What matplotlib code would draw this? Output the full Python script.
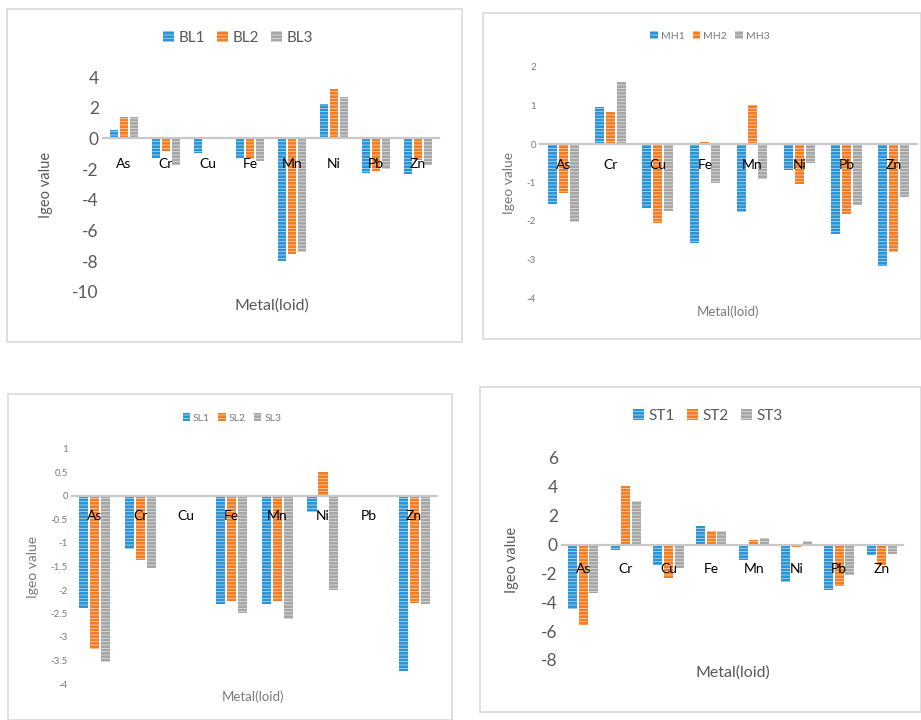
import matplotlib
matplotlib.use("Agg")
import matplotlib.pyplot as plt
from matplotlib.patches import Rectangle
import numpy as np

plt.rcParams['font.family'] = ['Lato', 'DejaVu Sans']
plt.rcParams['hatch.linewidth'] = 0.35

metals = ["As", "Cr", "Cu", "Fe", "Mn", "Ni", "Pb", "Zn"]

BL1 = [0.55, -1.3, -0.93, -1.3, -8.0, 2.24, -2.24, -2.33]
BL2 = [1.37, -0.8, 0.1, -1.35, -7.5, 3.2, -2.1, -1.4]
BL3 = [1.37, -1.75, -0.05, -1.5, -7.4, 2.72, -2.0, -1.75]

MH1 = [-1.57, 0.95, -1.65, -2.56, -1.76, -0.68, -2.35, -3.16]
MH2 = [-1.28, 0.83, -2.04, 0.06, 1.01, -1.05, -1.83, -2.81]
MH3 = [-2.02, 1.61, -1.73, -1.02, -0.91, -0.5, -1.58, -1.37]

SL1 = [-2.38, -1.13, 0.0, -2.3, -2.3, -0.35, 0.0, -3.72]
SL2 = [-3.26, -1.36, 0.0, -2.23, -2.23, 0.52, 0.0, -2.27]
SL3 = [-3.54, -1.54, 0.0, -2.48, -2.62, -2.0, 0.0, -2.3]

ST1 = [-4.44, -0.35, -1.39, 1.32, -1.04, -2.62, -3.17, -0.69]
ST2 = [-5.6, 4.05, -2.29, 0.93, 0.3, -0.16, -2.9, -1.43]
ST3 = [-3.33, 3.0, -1.62, 0.93, 0.49, 0.23, -2.08, -0.67]

yticks_BL = [4, 2, 0, -2, -4, -6, -8, -10]
yticks_MH = [2, 1, 0, -1, -2, -3, -4]
yticks_SL = [1, 0.5, 0, -0.5, -1, -1.5, -2, -2.5, -3, -3.5, -4]
yticks_ST = [6, 4, 2, 0, -2, -4, -6, -8]

colors = ["#2a94d6", "#f57c22", "#a6a6a6"]

W, H = 921, 720
fig = plt.figure(figsize=(W / 100, H / 100), dpi=100)
fig.patch.set_facecolor("white")

def frame(x0, y0, x1, y1):
    fig.add_artist(Rectangle((x0 / W, 1 - y1 / H), (x1 - x0) / W, (y1 - y0) / H,
                             transform=fig.transFigure, fill=False,
                             edgecolor="#d9d9d9", lw=1.2))

def panel(rect, series, names, yticks, ylim, tick_fs, cat_fs, cat_pad, lab_fs,
          txtcol, legend_xy, legend_fs, ylabel_xy, xlabel_xy, xlab_fs,
          width, step):
    x0, y0, x1, y1 = rect
    ax = fig.add_axes([x0 / W, 1 - y1 / H, (x1 - x0) / W, (y1 - y0) / H])
    x = np.arange(len(metals))
    handles = []
    for k, (vals, nm) in enumerate(zip(series, names)):
        b = ax.bar(x + (k - 1) * step, vals, width, color=colors[k],
                   edgecolor="white", linewidth=0, hatch="-----", label=nm, zorder=2)
        handles.append(b)
    ax.set_axisbelow(False)
    ax.set_xlim(-0.5, len(metals) - 0.5)
    ax.set_ylim(*ylim)
    ax.set_yticks(yticks)
    ax.set_yticklabels([("%g" % t) for t in yticks], fontsize=tick_fs, color=txtcol)
    ax.set_xticks(x)
    ax.set_xticklabels(metals, fontsize=cat_fs, color=txtcol)
    for s in ["top", "right", "left"]:
        ax.spines[s].set_visible(False)
    ax.spines["bottom"].set_position(("data", 0))
    ax.spines["bottom"].set_color("#c8c8c8")
    ax.spines["bottom"].set_linewidth(1.6)
    ax.tick_params(axis="both", length=0)
    ax.tick_params(axis="x", pad=cat_pad)
    ax.tick_params(axis="y", pad=3)
    ax.patch.set_alpha(0)
    fig.text(ylabel_xy[0] / W, 1 - ylabel_xy[1] / H, "Igeo value", rotation=90,
             ha="center", va="center", fontsize=lab_fs, color=txtcol)
    fig.text(xlabel_xy[0] / W, 1 - xlabel_xy[1] / H, "Metal(loid)",
             ha="center", va="center", fontsize=xlab_fs, color=txtcol)
    fig.legend(handles=handles, labels=names, loc="center",
               bbox_to_anchor=(legend_xy[0] / W, 1 - legend_xy[1] / H),
               ncol=3, frameon=False, fontsize=legend_fs, handlelength=0.7,
               handleheight=0.7, handletextpad=0.3, columnspacing=0.8,
               labelcolor=txtcol)
    return ax

# Frames
frame(7, 9, 462, 342)
frame(483, 13, 921, 339)
frame(8, 394, 452, 720)
frame(480, 387, 921, 712)

panel((103, 77, 439, 292), [BL1, BL2, BL3], ["BL1", "BL2", "BL3"], yticks_BL, (-10, 4),
      12.5, 13.5, 14, 10.5, "#595959", (238, 38), 11, (46, 185), (272, 306), 11.5,
      0.21, 0.24)

panel((540, 67, 917, 298), [MH1, MH2, MH3], ["MH1", "MH2", "MH3"], yticks_MH, (-4, 2),
      7, 7.5, 11, 10, "#7a7a7a", (710, 36), 7.5, (509, 183), (728, 312), 9.5,
      0.19, 0.23)

panel((72, 449, 437, 684), [SL1, SL2, SL3], ["SL1", "SL2", "SL3"], yticks_SL, (-4, 1),
      7, 7.5, 10, 10, "#7a7a7a", (232, 418), 7.5, (33, 567), (253, 697), 9.5,
      0.2, 0.24)

panel((562, 458, 903, 660), [ST1, ST2, ST3], ["ST1", "ST2", "ST3"], yticks_ST, (-8, 6),
      12.5, 13.5, 13, 10.5, "#595959", (708, 416), 11, (512, 560), (733, 673), 11.5,
      0.21, 0.25)

fig.savefig("out.png", dpi=100)
